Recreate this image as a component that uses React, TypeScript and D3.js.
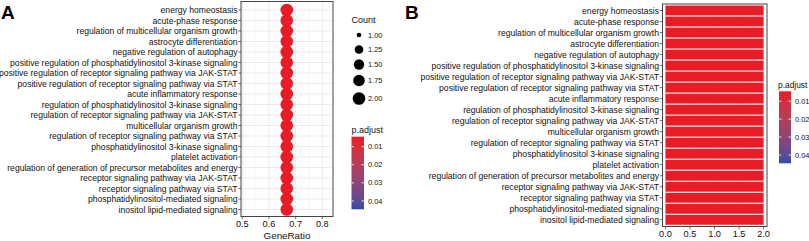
import React from "react";
import * as d3 from "d3";

const categories: string[] = [
  "energy homeostasis",
  "acute-phase response",
  "regulation of multicellular organism growth",
  "astrocyte differentiation",
  "negative regulation of autophagy",
  "positive regulation of phosphatidylinositol 3-kinase signaling",
  "positive regulation of receptor signaling pathway via JAK-STAT",
  "positive regulation of receptor signaling pathway via STAT",
  "acute inflammatory response",
  "regulation of phosphatidylinositol 3-kinase signaling",
  "regulation of receptor signaling pathway via JAK-STAT",
  "multicellular organism growth",
  "regulation of receptor signaling pathway via STAT",
  "phosphatidylinositol 3-kinase signaling",
  "platelet activation",
  "regulation of generation of precursor metabolites and energy",
  "receptor signaling pathway via JAK-STAT",
  "receptor signaling pathway via STAT",
  "phosphatidylinositol-mediated signaling",
  "inositol lipid-mediated signaling",
];
const geneRatio: number[] = categories.map(() => 2 / 3);
const counts: number[] = [2, 2, 2, 2, 2, 2, 2, 2, 2, 2, 2, 2, 2, 2, 2, 2, 2, 2, 2, 2];
const pAdjust: number[] = [0.0046, 0.0046, 0.0046, 0.0046, 0.0046, 0.0046, 0.0046, 0.0046, 0.0046, 0.0046, 0.0046, 0.0046, 0.0046, 0.0046, 0.0046, 0.0046, 0.0046, 0.0046, 0.0046, 0.0046];
const pLegendRange: number[] = [0.0045, 0.0446];
const pTicks: number[] = [0.01, 0.02, 0.03, 0.04];
const countLegend: number[] = [1.0, 1.25, 1.5, 1.75, 2.0];
const countRange: number[] = [1, 2];
const geneRatioTicks: number[] = [0.5, 0.6, 0.7, 0.8];
const geneRatioMinor: number[] = [0.55, 0.65, 0.75];
const countTicks: number[] = [0, 0.5, 1, 1.5, 2];

const RED = "#E81C26";
const BLUE = "#2F4CA6";
const FONT = "'Liberation Sans', Arial, Helvetica, sans-serif";
const TXT = "#111";

export default function App() {
  const W = 809, H = 241;
  const color = d3.scaleSequential(d3.interpolateLab(RED, BLUE)).domain(pLegendRange as [number, number]);

  // Panel A
  const aL = 241, aR = 333, aT = 1.5, aB = 216.5;
  const xA = d3.scaleLinear().domain([0.4951, 0.84]).range([aL, aR]);
  const yA = d3.scalePoint<string>().domain(categories).range([10, 209.5]);
  const tScale = d3.scaleLinear().domain(countRange as [number, number]).range([0, 1]);
  const diam = d3.scaleLinear().domain([0, 1]).range([4.7, 12.6]);
  const sizeOf = (v: number) => diam(Math.sqrt(Math.max(0, tScale(v))));

  // Panel B
  const bL = 662.5, bR = 767, bT = 4, bB = 226.5;
  const xB = d3.scaleLinear().domain([-0.061, 2.07]).range([bL, bR]);
  const yB = d3.scalePoint<string>().domain(categories).range([10.5, 219.8]);
  const stepB = yB.step();

  const labelSize = 8.6;
  const tickSize = 9.2;
  const legTitle = 9;
  const legText = 7.4;

  const colorbar = (id: string, x: number, y0: number, y1: number, w: number) => {
    const cy = d3.scaleLinear().domain(pLegendRange as [number, number]).range([y0, y1]);
    return (
      <g>
        <defs>
          <linearGradient id={id} x1="0" y1="0" x2="0" y2="1">
            {d3.range(0, 1.0001, 0.1).map((t) => (
              <stop key={t} offset={`${t * 100}%`} stopColor={color(pLegendRange[0] + t * (pLegendRange[1] - pLegendRange[0]))} />
            ))}
          </linearGradient>
        </defs>
        <rect x={x} y={y0} width={w} height={y1 - y0} fill={`url(#${id})`} />
        {pTicks.map((p) => (
          <g key={p}>
            <line x1={x} x2={x + 2.5} y1={cy(p)} y2={cy(p)} stroke="white" strokeWidth={0.8} />
            <line x1={x + w - 2.5} x2={x + w} y1={cy(p)} y2={cy(p)} stroke="white" strokeWidth={0.8} />
            <text x={x + w + 4} y={cy(p)} dy="0.35em" fontSize={legText} fill={TXT}>{p.toFixed(2)}</text>
          </g>
        ))}
      </g>
    );
  };

  return (
    <svg width={W} height={H} style={{ position: "absolute", left: 0, top: 0 }} fontFamily={FONT}>
      <rect width={W} height={H} fill="white" />
      {/* Panel letters */}
      <text x={1} y={18.7} fontSize={19} fontWeight="bold" fill="#000">A</text>
      <text x={405} y={18.7} fontSize={19} fontWeight="bold" fill="#000">B</text>

      {/* Panel A grid */}
      {geneRatioMinor.map((v) => (
        <line key={"mn" + v} x1={xA(v)} x2={xA(v)} y1={aT} y2={aB} stroke="#F3F3F3" strokeWidth={0.6} />
      ))}
      {geneRatioTicks.map((v) => (
        <line key={"mj" + v} x1={xA(v)} x2={xA(v)} y1={aT} y2={aB} stroke="#E6E6E6" strokeWidth={0.8} />
      ))}
      {categories.map((c) => (
        <line key={"h" + c} x1={aL} x2={aR} y1={yA(c)} y2={yA(c)} stroke="#E6E6E6" strokeWidth={0.8} />
      ))}
      {categories.map((c, i) => (
        <circle key={"d" + c} cx={xA(geneRatio[i])} cy={yA(c)} r={sizeOf(counts[i]) / 2} fill={color(pAdjust[i])} />
      ))}
      <rect x={aL} y={aT} width={aR - aL} height={aB - aT} fill="none" stroke="#444" strokeWidth={1} />
      {categories.map((c) => (
        <g key={"ya" + c}>
          <line x1={aL - 2.7} x2={aL} y1={yA(c)} y2={yA(c)} stroke="#333" strokeWidth={0.7} />
          <text x={aL - 3.5} y={yA(c)} dy="0.35em" textAnchor="end" fontSize={labelSize} fill={TXT}>{c}</text>
        </g>
      ))}
      {geneRatioTicks.map((v) => (
        <g key={"xa" + v}>
          <line x1={xA(v)} x2={xA(v)} y1={aB} y2={aB + 2.7} stroke="#333" strokeWidth={0.7} />
          <text x={xA(v)} y={aB + 10} textAnchor="middle" fontSize={tickSize} fill={TXT}>{v.toFixed(1)}</text>
        </g>
      ))}
      <text x={(aL + aR) / 2} y={238.5} textAnchor="middle" fontSize={9.8} fill={TXT}>GeneRatio</text>

      {/* Count legend */}
      <text x={351.5} y={23} fontSize={legTitle} fill={TXT}>Count</text>
      {countLegend.map((v, i) => {
        const cy = [35, 49.5, 64.5, 80.5, 98.5][i];
        return (
          <g key={"cl" + v}>
            <circle cx={359} cy={cy} r={sizeOf(v) / 2} fill="#000" />
            <text x={368} y={cy} dy="0.35em" fontSize={legText} fill={TXT}>{v.toFixed(2)}</text>
          </g>
        );
      })}
      {/* p.adjust legend A */}
      <text x={351.5} y={132.5} fontSize={legTitle} fill={TXT}>p.adjust</text>
      {colorbar("gradA", 351.5, 136.7, 209.3, 12.5)}

      {/* Panel B */}
      {countTicks.map((v) => (
        <line key={"bg" + v} x1={xB(v)} x2={xB(v)} y1={bT} y2={bB} stroke="#EBEBEB" strokeWidth={0.8} />
      ))}
      {categories.map((c, i) => (
        <rect key={"b" + c} x={xB(0)} y={(yB(c) as number) - stepB * 0.45} width={xB(counts[i]) - xB(0)} height={stepB * 0.9} fill={color(pAdjust[i])} />
      ))}
      <rect x={bL} y={bT} width={bR - bL} height={bB - bT} fill="none" stroke="#444" strokeWidth={1} />
      {categories.map((c) => (
        <g key={"yb" + c}>
          <line x1={bL - 2.7} x2={bL} y1={yB(c)} y2={yB(c)} stroke="#333" strokeWidth={0.7} />
          <text x={bL - 3.5} y={yB(c)} dy="0.35em" textAnchor="end" fontSize={labelSize} fill={TXT}>{c}</text>
        </g>
      ))}
      {countTicks.map((v) => (
        <g key={"xb" + v}>
          <line x1={xB(v)} x2={xB(v)} y1={bB} y2={bB + 2.7} stroke="#333" strokeWidth={0.7} />
          <text x={xB(v)} y={bB + 10} textAnchor="middle" fontSize={tickSize} fill={TXT}>{v.toFixed(1)}</text>
        </g>
      ))}
      <text x={778} y={87.5} fontSize={8.4} fill={TXT}>p.adjust</text>
      {colorbar("gradB", 779, 91.3, 163.3, 12)}
    </svg>
  );
}
